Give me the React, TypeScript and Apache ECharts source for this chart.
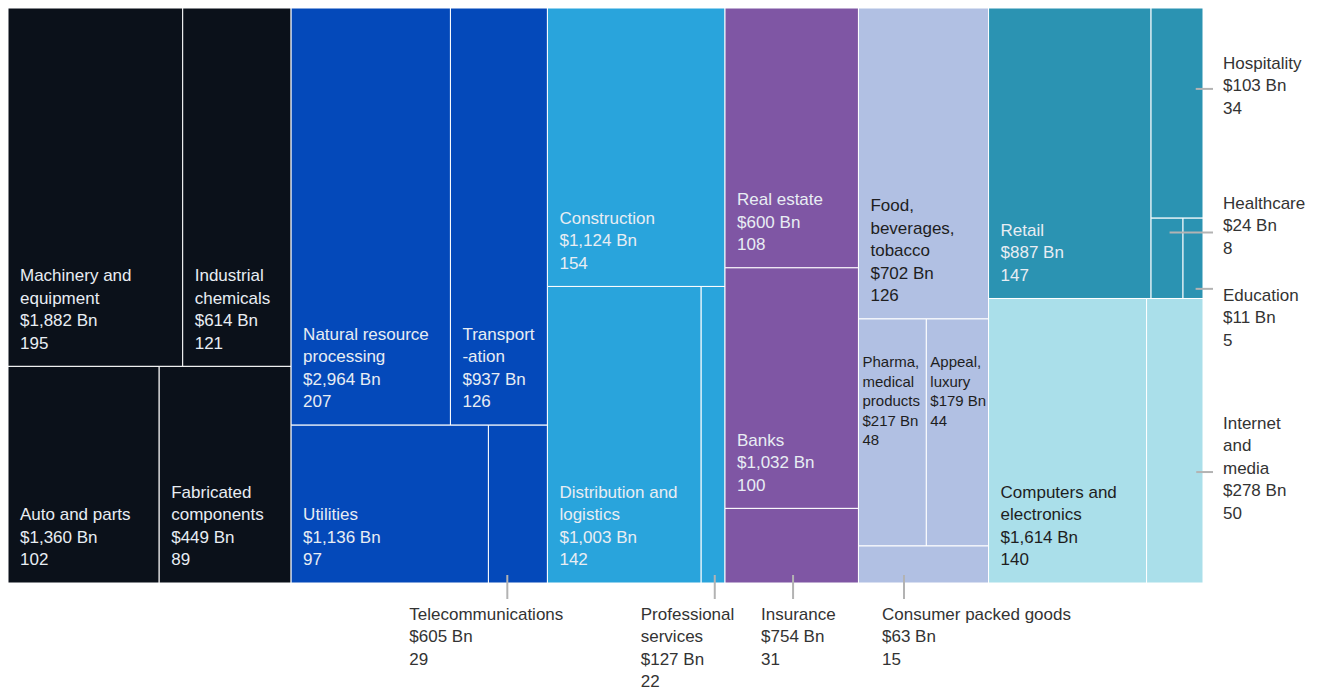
import React, { useEffect, useRef } from "react";
import * as echarts from "echarts";

// ---- Data ----
const sectorLabels = [
  "Machinery and\nequipment", // 0
  "Industrial\nchemicals", // 1
  "Auto and parts", // 2
  "Fabricated\ncomponents", // 3
  "Natural resource\nprocessing", // 4
  "Transport\n-ation", // 5
  "Utilities", // 6
  "Telecommunications", // 7
  "Construction", // 8
  "Distribution and\nlogistics", // 9
  "Professional\nservices", // 10
  "Real estate", // 11
  "Banks", // 12
  "Insurance", // 13
  "Food,\nbeverages,\ntobacco", // 14
  "Pharma,\nmedical\nproducts", // 15
  "Appeal,\nluxury", // 16
  "Consumer packed goods", // 17
  "Retail", // 18
  "Hospitality", // 19
  "Healthcare", // 20
  "Education", // 21
  "Computers and\nelectronics", // 22
  "Internet\nand\nmedia", // 23
];
const sectorAmountsBn = [
  1882, 614, 1360, 449, 2964, 937, 1136, 605, 1124, 1003, 127, 600, 1032, 754,
  702, 217, 179, 63, 887, 103, 24, 11, 1614, 278,
];
const sectorCounts = [
  195, 121, 102, 89, 207, 126, 97, 29, 154, 142, 22, 108, 100, 31, 126, 48, 44,
  15, 147, 34, 8, 5, 140, 50,
];
const sectorColorGroup = [
  0, 0, 0, 0, 1, 1, 1, 1, 2, 2, 2, 3, 3, 3, 4, 4, 4, 4, 5, 5, 5, 5, 6, 6,
];

// ---- Styles / layout structure ----
const groupColors = [
  "#0b111a",
  "#0449ba",
  "#29a4dc",
  "#7f56a4",
  "#b1c0e3",
  "#2b93b2",
  "#aadfea",
];
const darkTextGroups = [4, 6];

type Node = number | { d: "h" | "v"; c: Node[] };
const layoutTree: Node = {
  d: "h",
  c: [
    { d: "v", c: [{ d: "h", c: [0, 1] }, { d: "h", c: [2, 3] }] },
    { d: "v", c: [{ d: "h", c: [4, 5] }, { d: "h", c: [6, 7] }] },
    { d: "v", c: [8, { d: "h", c: [9, 10] }] },
    { d: "v", c: [11, 12, 13] },
    { d: "v", c: [14, { d: "h", c: [15, 16] }, 17] },
    {
      d: "v",
      c: [
        { d: "h", c: [18, { d: "v", c: [19, { d: "h", c: [20, 21] }] }] },
        { d: "h", c: [22, 23] },
      ],
    },
  ],
};

const annotations = [
  { idx: 7, side: "bottom", at: 0.32, dx: -98, dy: 0, from: 0 },
  { idx: 10, side: "bottom", at: 0.57, dx: -74, dy: 0, from: 0 },
  { idx: 13, side: "bottom", at: 0.51, dx: -32, dy: 0, from: 0 },
  { idx: 17, side: "bottom", at: 0.35, dx: -22, dy: 0, from: 0 },
  { idx: 19, side: "right", at: 0.385, from: 0.86, dx: 0, dy: -3 },
  { idx: 20, side: "right", at: 0.18, from: 0.58, dx: 0, dy: -7 },
  { idx: 21, side: "right", at: 0.88, from: 0.63, dx: 0, dy: 29 },
  { idx: 23, side: "right", at: 0.61, from: 0.88, dx: 0, dy: -4 },
];

const FONT = '"Liberation Sans", Arial, sans-serif';

function nodeSum(n: Node): number {
  if (typeof n === "number") return sectorCounts[n];
  return n.c.reduce((s, ch) => s + nodeSum(ch), 0);
}

function layout(
  n: Node,
  x0: number,
  y0: number,
  x1: number,
  y1: number,
  out: number[][]
) {
  if (typeof n === "number") {
    out.push([x0, y0, x1, y1, n]);
    return;
  }
  const total = nodeSum(n);
  let acc = 0;
  n.c.forEach((ch) => {
    const f0 = acc / total;
    acc += nodeSum(ch);
    const f1 = acc / total;
    if (n.d === "h") {
      layout(ch, x0 + (x1 - x0) * f0, y0, x0 + (x1 - x0) * f1, y1, out);
    } else {
      layout(ch, x0, y0 + (y1 - y0) * f0, x1, y0 + (y1 - y0) * f1, out);
    }
  });
}

function fmtAmount(v: number) {
  return "$" + v.toLocaleString("en-US") + " Bn";
}

function labelText(i: number) {
  return `${sectorLabels[i]}\n${fmtAmount(sectorAmountsBn[i])}\n${sectorCounts[i]}`;
}

export default function App() {
  const ref = useRef<HTMLDivElement>(null);

  useEffect(() => {
    if (!ref.current) return;
    const chart = echarts.init(ref.current, undefined, { renderer: "svg" });

    const rects: number[][] = [];
    layout(layoutTree, 0, 0, 1, 1, rects);
    const annotated = new Set(annotations.map((a) => a.idx));
    const annRects = annotations.map((a) => {
      const r = rects.find((rr) => rr[4] === a.idx)!;
      return [...r.slice(0, 4), annotations.indexOf(a)];
    });

    const option: any = {
      animation: false,
      grid: { left: 8, top: 8, width: 1195, height: 575 },
      xAxis: { type: "value", min: 0, max: 1, show: false },
      yAxis: { type: "value", min: 0, max: 1, inverse: true, show: false },
      series: [
        {
          type: "custom",
          coordinateSystem: "cartesian2d",
          clip: false,
          encode: { x: [0, 2], y: [1, 3] },
          data: rects,
          renderItem: (params: any, api: any) => {
            const p0 = api.coord([api.value(0), api.value(1)]);
            const p1 = api.coord([api.value(2), api.value(3)]);
            const idx = api.value(4);
            const g = sectorColorGroup[idx];
            const w = p1[0] - p0[0];
            const h = p1[1] - p0[1];
            const children: any[] = [
              {
                type: "rect",
                shape: { x: p0[0], y: p0[1], width: w, height: h },
                style: { fill: groupColors[g], stroke: "#ffffff", lineWidth: 1 },
              },
            ];
            if (!annotated.has(idx)) {
              const small = w < 80;
              const fill = darkTextGroups.includes(g) ? "#1e1e1e" : "#e8edf3";
              children.push({
                type: "text",
                style: {
                  text: labelText(idx),
                  x: p0[0] + (small ? 4 : 12),
                  y: small ? p0[1] + 33 : p1[1] - 12,
                  fill,
                  fontFamily: FONT,
                  fontSize: small ? 15 : 17,
                  lineHeight: small ? 19.5 : 22.5,
                  align: "left",
                  verticalAlign: small ? "top" : "bottom",
                },
              });
            }
            return { type: "group", children };
          },
          z: 2,
        },
        {
          type: "custom",
          coordinateSystem: "cartesian2d",
          clip: false,
          encode: { x: [0, 2], y: [1, 3] },
          data: annRects,
          renderItem: (params: any, api: any) => {
            const p0 = api.coord([api.value(0), api.value(1)]);
            const p1 = api.coord([api.value(2), api.value(3)]);
            const a = annotations[api.value(4)];
            const w = p1[0] - p0[0];
            const h = p1[1] - p0[1];
            const right = api.coord([1, 0])[0];
            const textStyle = {
              text: labelText(a.idx),
              fill: "#333333",
              fontFamily: FONT,
              fontSize: 17,
              lineHeight: 22.5,
              align: "left",
            };
            if (a.side === "bottom") {
              const lx = p0[0] + a.at * w;
              return {
                type: "group",
                children: [
                  {
                    type: "line",
                    shape: { x1: lx, y1: p1[1] - 8, x2: lx, y2: p1[1] + 16 },
                    style: { stroke: "#b3b3b3", lineWidth: 2 },
                  },
                  {
                    type: "text",
                    style: {
                      ...textStyle,
                      x: lx + a.dx,
                      y: p1[1] + 20,
                      verticalAlign: "top",
                    },
                  },
                ],
              };
            }
            const ly = p0[1] + a.at * h;
            const lx0 = p0[0] + a.from * w;
            const lx1 = right + 10;
            return {
              type: "group",
              children: [
                {
                  type: "line",
                  shape: { x1: lx0, y1: ly, x2: lx1, y2: ly },
                  style: { stroke: "#b3b3b3", lineWidth: 2 },
                },
                {
                  type: "text",
                  style: {
                    ...textStyle,
                    x: lx1 + 10,
                    y: ly + a.dy,
                    verticalAlign: "middle",
                  },
                },
              ],
            };
          },
          z: 5,
        },
      ],
    };

    chart.setOption(option);
    return () => chart.dispose();
  }, []);

  return (
    <div
      ref={ref}
      style={{
        position: "fixed",
        left: 0,
        top: 0,
        width: 1319,
        height: 688,
        background: "#ffffff",
      }}
    />
  );
}
